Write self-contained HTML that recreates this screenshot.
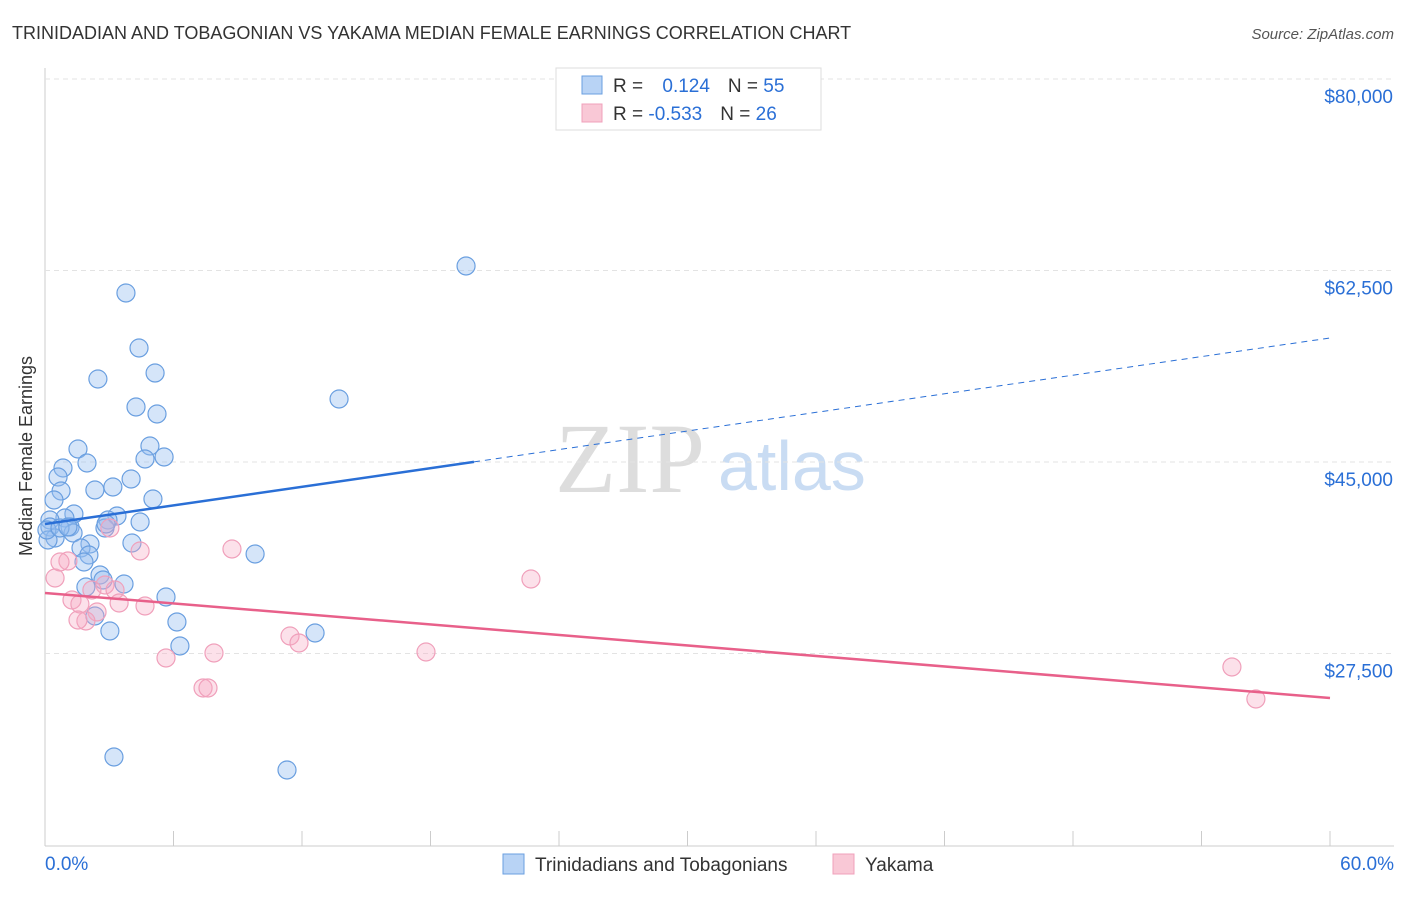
<!DOCTYPE html>
<html><head><meta charset="utf-8"><style>
body{margin:0;background:#fff;font-family:"Liberation Sans",sans-serif}
</style></head><body>
<svg id="c" width="1406" height="892" xmlns="http://www.w3.org/2000/svg" style="font-family:'Liberation Sans',sans-serif">
<text x="12" y="39" font-size="18" fill="#333">TRINIDADIAN AND TOBAGONIAN VS YAKAMA MEDIAN FEMALE EARNINGS CORRELATION CHART</text>
<text x="1394" y="39" font-size="15" fill="#555" font-style="italic" text-anchor="end">Source: ZipAtlas.com</text>
<text x="32" y="456" font-size="18" fill="#333" text-anchor="middle" transform="rotate(-90 32 456)">Median Female Earnings</text>
<text x="555" y="492" font-size="100" fill="#ddd" font-family="Liberation Serif">ZIP</text>
<text x="718" y="490" font-size="70" fill="#c9dcf3">atlas</text>
<g id="grid"></g><g id="pts"></g><g id="lines"></g>
<g>
<rect x="556" y="68" width="265" height="62" fill="#fff" stroke="#ddd"/>
<rect x="582" y="76" width="20" height="18" fill="#b8d3f5" stroke="#6a9fe0"/>
<text x="613" y="92" font-size="19" fill="#333">R = <tspan fill="#2a6fd6" dx="14">0.124</tspan><tspan dx="18" fill="#333">N = </tspan><tspan fill="#2a6fd6">55</tspan></text>
<rect x="582" y="104" width="20" height="18" fill="#f9c8d6" stroke="#f0a0bb"/>
<text x="613" y="120" font-size="19" fill="#333">R = <tspan fill="#2a6fd6">-0.533</tspan><tspan dx="18" fill="#333">N = </tspan><tspan fill="#2a6fd6">26</tspan></text>
</g>
<g>
<rect x="503" y="854" width="21" height="20" fill="#b8d3f5" stroke="#6a9fe0"/>
<text x="535" y="871" font-size="19" fill="#333">Trinidadians and Tobagonians</text>
<rect x="833" y="854" width="21" height="20" fill="#f9c8d6" stroke="#f0a0bb"/>
<text x="865" y="871" font-size="19" fill="#333">Yakama</text>
</g>
</svg>
<script>
const yTicks=[80000,62500,45000,27500];
const xTickLabels=["0.0%","60.0%"];
const blueX=[19.66,3.78,4.39,5.14,2.47,13.73,4.25,5.23,4.90,1.54,5.56,4.67,1.96,0.84,0.61,4.02,2.33,0.75,3.17,5.04,0.42,1.35,3.36,2.94,4.44,0.93,0.23,0.23,1.17,1.31,0.47,2.80,4.06,2.10,1.68,2.05,1.82,9.81,2.57,2.71,3.69,1.91,5.65,2.33,6.16,3.03,12.61,6.30,3.22,11.30,0.14,0.09,0.70,1.07,2.85];
const blueY=[62912,60445,55419,53134,52586,50758,50027,49388,46464,46189,45458,45276,44910,44453,43631,43448,42443,42351,42717,41620,41529,40250,40067,39701,39519,39884,39701,39062,39062,38513,38057,38970,37600,37508,37143,36503,35863,36594,34676,34219,33853,33579,32665,30929,30381,29558,29375,28188,18044,16856,37874,38788,38970,39062,39336];
const pinkX=[8.73,4.44,3.03,1.07,0.47,22.69,2.80,2.19,3.27,1.26,1.63,3.46,4.67,2.43,1.91,11.44,11.86,7.89,17.79,5.65,7.38,7.61,55.42,56.54,1.54,0.70];
const pinkY=[37051,36869,38970,35955,34401,34310,33762,33305,33305,32391,32025,32117,31843,31294,30472,29101,28462,27548,27639,27091,24350,24350,26269,23344,30563,35863];
const blueTrend=[39336,56333], blueSolidEnd=20.03;
const pinkTrend=[33031,23436];
const X=p=>45+p*(1285/60), Y=v=>79+(80000-v)*191.5/17500;
const NS="http://www.w3.org/2000/svg";
function mk(par,tag,at){const e=document.createElementNS(NS,tag);for(const k in at)e.setAttribute(k,at[k]);document.getElementById(par).appendChild(e);return e;}
// axes
let ax=mk('grid','line',{x1:45,y1:68,x2:45,y2:846,stroke:'#ccc'});


let bx=mk('grid','line',{x1:45,y1:846,x2:1394,y2:846,stroke:'#ccc'});


for(let i=0;i<=10;i++){const t=mk('grid','line',{x1:X(i*6),y1:831,x2:X(i*6),y2:846,stroke:'#ccc'});

}
yTicks.forEach(v=>{const g=mk('grid','line',{x1:45,y1:Y(v),x2:1394,y2:Y(v),stroke:'#e3e3e3','stroke-dasharray':'5,4'});


const t=mk('grid','text',{x:1393,y:Y(v)+24,'font-size':19,fill:'#2a6fd6','text-anchor':'end'});t.textContent='$'+v.toLocaleString('en-US');

});
xTickLabels.forEach((s,i)=>{const t=mk('grid','text',{x:i?1394:45,y:870,'font-size':19,fill:'#2a6fd6','text-anchor':i?'end':'start'});t.textContent=s;

});
blueX.forEach((x,i)=>{const c=mk('pts','circle',{cx:X(x),cy:Y(blueY[i]),r:9,fill:'rgba(150,190,240,0.4)',stroke:'#6a9fe0','stroke-width':1.2});

});
pinkX.forEach((x,i)=>{const c=mk('pts','circle',{cx:X(x),cy:Y(pinkY[i]),r:9,fill:'rgba(245,170,195,0.35)',stroke:'#f0a0bb','stroke-width':1.2});

});
const bAt=p=>blueTrend[0]+(blueTrend[1]-blueTrend[0])*p/60;
let l1=mk('lines','line',{x1:X(0),y1:Y(bAt(0)),x2:X(blueSolidEnd),y2:Y(bAt(blueSolidEnd)),stroke:'#2a6fd6','stroke-width':2.5});


let l2=mk('lines','line',{x1:X(blueSolidEnd),y1:Y(bAt(blueSolidEnd)),x2:X(60),y2:Y(bAt(60)),stroke:'#2a6fd6','stroke-width':1,'stroke-dasharray':'6,5'});


let l3=mk('lines','line',{x1:X(0),y1:Y(pinkTrend[0]),x2:X(60),y2:Y(pinkTrend[1]),stroke:'#e8608a','stroke-width':2.5});


</script>
</body></html>
